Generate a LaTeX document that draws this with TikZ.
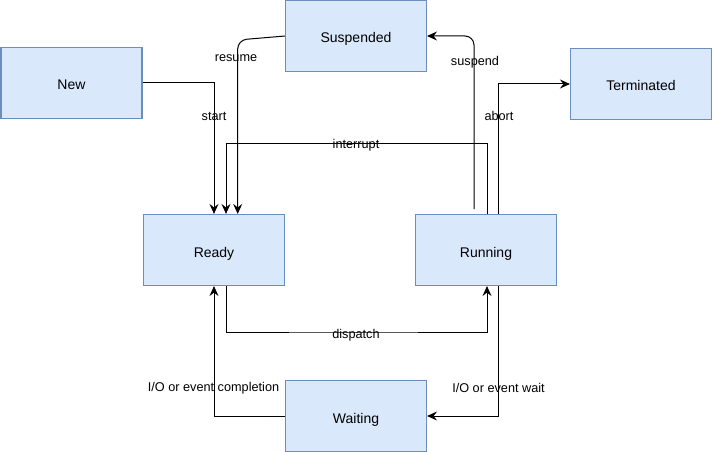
\documentclass[tikz,border=0pt]{standalone}
\usepackage{fontspec}
\setmainfont{Liberation Sans}
\usetikzlibrary{arrows.meta}
\definecolor{boxfill}{HTML}{DAE8FC}
\definecolor{boxline}{HTML}{6C8EBF}
\begin{document}
\begin{tikzpicture}[x=1pt,y=-1pt,
  state/.style={draw=boxline,fill=boxfill,line width=1.1pt,minimum width=141pt,minimum height=71pt,inner sep=0pt,text height=14pt,text depth=0pt,font=\fontsize{14}{16}\selectfont},
  arr/.style={draw=black,line width=1pt,-{Stealth[length=10pt,width=9pt,inset=3.5pt]}},
  lbl/.style={font=\fontsize{12.7}{14}\selectfont,inner sep=0pt}]
\useasboundingbox (0,0) rectangle (713,452);
\node[state] (New) at (71.5,83) {New};
\node[state] (Suspended) at (356,36) {Suspended};
\node[state] (Terminated) at (641,84) {Terminated};
\node[state] (Ready) at (214,250) {Ready};
\node[state] (Running) at (486,250) {Running};
\node[state] (Waiting) at (356,416) {Waiting};
\coordinate (suspstart) at (474,209);
% connectors
\draw[arr] (New.east) -| (Ready.north);
\draw[arr,rounded corners=9pt] (Suspended.west) -- (237.7,40) -- ([xshift=23.7pt]Ready.north);
\draw[arr] ([xshift=1pt]Running.north) |- (226,143) -- ([xshift=12pt]Ready.north);
\draw[arr,rounded corners=9pt] (suspstart) |- (Suspended.east);
\draw[arr] ([xshift=12.5pt]Running.north) |- (Terminated.west);
\draw[arr] ([xshift=12pt]Ready.south) |- (350,332) -| ([xshift=1pt]Running.south);
\draw[arr] ([xshift=12.5pt]Running.south) |- (Waiting.east);
\draw[arr] (Waiting.west) -| (Ready.south);
% labels
\node[lbl] (lstart) at (214,116) {start};
\node[lbl] (lresume) at (236,58) {resume};
\node[lbl] (linterrupt) at (356,145) {interrupt};
\node[lbl] (lsuspend) at (475,62) {suspend};
\node[lbl] (labort) at (499,116) {abort};
\node[lbl] (ldispatch) at (356,335) {dispatch};
\node[lbl] (lwait) at (498.5,388) {I/O or event wait};
\node[lbl] (lcompl) at (213.5,388) {I/O or event completion};
\end{tikzpicture}
\end{document}
